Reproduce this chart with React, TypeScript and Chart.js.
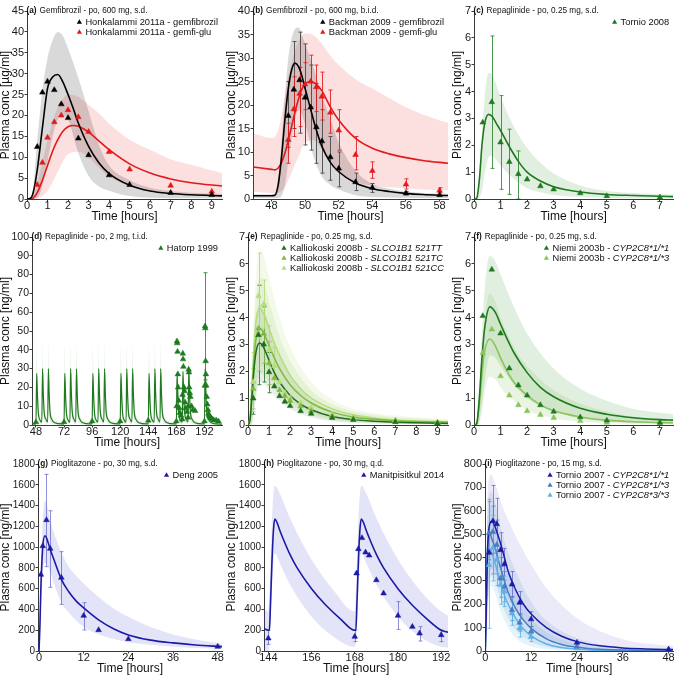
import React, { useEffect, useRef } from 'react';
import { Chart, registerables } from 'chart.js';

Chart.register(...registerables);

const FAM = "'Liberation Sans', Arial, Helvetica, sans-serif";
Chart.defaults.font.family = FAM;

// ---------------- (a) Gemfibrozil s.d. ----------------
const A_T_OBS = [0.5, 0.75, 1, 1.33, 1.67, 2, 2.5, 3, 4, 5, 7, 9];
const A_GEM_OBS = [12.5, 25.5, 28.1, 26.1, 22.7, 19.4, 14.5, 10.5, 5.7, 3.4, 1.5, 1.0];
const A_GLU_OBS = [3.4, 8.7, 14.7, 18.4, 20.0, 21.3, 19.6, 16.1, 11.3, 7.1, 3.2, 1.8];
const A_T_SIM = [0, 0.15, 0.3, 0.5, 0.75, 1, 1.25, 1.5, 1.75, 2, 2.25, 2.5, 3, 3.5, 4, 5, 6, 7, 8, 9.5];
const A_GEM_SIM = [0, 0.1, 1.5, 7, 17, 26.5, 29.2, 29.8, 28, 25, 21.7, 18.2, 12.6, 8.7, 6.1, 3.3, 1.9, 1.3, 1.0, 0.75];
const A_GLU_SIM = [0, 0, 0.2, 1.5, 4.5, 8, 11.5, 14.2, 16.2, 17.3, 17.6, 17.4, 16.0, 13.9, 11.8, 8.4, 6.2, 4.8, 3.9, 3.1];
const A_T_BAND = [0, 0.25, 0.5, 0.75, 1, 1.25, 1.5, 1.75, 2, 2.5, 3, 3.5, 4, 5, 6, 7, 8, 9.5];
const A_GEM_HI = [0, 1, 14, 26, 33.7, 38, 40, 39, 36, 29, 21, 13, 8, 4.5, 2.7, 1.9, 1.5, 1.2];
const A_GEM_LO = [0, 0, 0.3, 3, 9, 15, 19, 20, 19, 11, 5.5, 3, 2, 0.7, 0.3, 0.2, 0.15, 0.1];
const A_GLU_HI = [0, 0.5, 3.5, 9, 14, 18.5, 22, 24, 25, 24.5, 22.5, 20.5, 18, 14.2, 11.8, 9.5, 8.2, 6.2];
const A_GLU_LO = [0, 0, 0.1, 0.7, 2, 4, 6.5, 9, 10.8, 11.3, 10, 7.5, 5.3, 3.3, 2.2, 1.5, 1.1, 0.7];

// ---------------- (b) Gemfibrozil b.i.d. ----------------
const B_T_OBS = [49, 49.33, 49.67, 50, 50.33, 50.67, 51, 51.5, 52, 53, 54, 56, 58];
const B_GEM_OBS = [17.7, 23.3, 25.3, 21.6, 19.5, 15.3, 12.3, 8.9, 6.5, 3.6, 2.4, 1.2, 0.85];
const B_GLU_OBS = [12.6, 19.1, 22.4, 24.4, 25.0, 23.8, 21.8, 18.4, 14.6, 9.4, 6.0, 3.1, 1.8];
const B_GEM_ERR_T = [49, 49.33, 49.67, 50, 50.33, 50.67, 51, 51.5, 52, 53, 54, 56];
const B_GEM_ERR_LO = [11, 15, 14, 11.5, 10.4, 7.6, 5.5, 4, 2.6, 1.8, 1.4, 0.9];
const B_GEM_ERR_HI = [25, 33.5, 35.5, 33, 28.5, 24.6, 19, 13.3, 10, 5.5, 3.3, 1.6];
const B_GLU_ERR_T = [49, 49.33, 49.67, 50, 50.33, 50.67, 51, 51.5, 52, 53, 54, 56, 58];
const B_GLU_ERR_LO = [7.6, 13.3, 15.4, 19, 19.6, 18.6, 16.8, 14, 10.4, 6.2, 4.4, 2.1, 1.3];
const B_GLU_ERR_HI = [16.1, 26, 28, 29, 30.6, 28.5, 27, 23.2, 19, 13.3, 7.9, 4.3, 2.4];
const B_T_SIM = [46.9, 48, 48.2, 48.4, 48.6, 48.8, 49, 49.2, 49.4, 49.6, 49.8, 50, 50.3, 50.6, 51, 51.5, 52, 53, 54, 55, 56, 57, 58.5];
const B_GEM_SIM = [0.7, 0.7, 0.8, 3, 9, 17, 23.5, 27.5, 28.9, 28.2, 26.3, 23.5, 19.5, 15.5, 11.2, 7.8, 5.8, 3.4, 2.2, 1.6, 1.2, 0.95, 0.75];
const B_GLU_SIM = [6.8, 6.3, 6.2, 6.6, 7.8, 9.8, 12.5, 15.5, 18.5, 21.2, 23.3, 24.5, 25.0, 24.6, 23.0, 19.6, 16.8, 12.9, 10.8, 9.6, 8.8, 8.2, 7.6];
const B_T_BAND = [46.9, 48, 48.2, 48.5, 48.8, 49, 49.3, 49.6, 50, 50.5, 51, 51.5, 52, 53, 54, 55, 56, 57, 58.5];
const B_GEM_HI = [1.0, 1.0, 1.2, 8, 22, 30, 35.5, 36.5, 33, 28, 22, 17, 12, 6, 3.2, 2.2, 1.6, 1.3, 1.1];
const B_GEM_LO = [0.2, 0.2, 0.2, 0.3, 3, 8, 15, 19, 16, 9, 4.8, 3, 2, 0.8, 0.4, 0.3, 0.25, 0.2, 0.2];
const B_GLU_HI = [14, 13, 13.2, 16, 22, 26, 30.5, 33.5, 35.2, 34.8, 33, 30.5, 28.5, 25.5, 23.5, 21.5, 19.5, 18, 16.2];
const B_GLU_LO = [1.6, 1.3, 1.3, 1.5, 2.5, 4, 6.5, 9, 12, 12.5, 10.5, 8, 6, 3.7, 2.8, 2.5, 2.3, 2.0, 1.8];

// ---------------- (c) Repaglinide Tornio 2008 ----------------
const C_T_OBS = [0.33, 0.67, 1, 1.33, 1.67, 2, 2.5, 3, 4, 5, 7];
const C_OBS = [2.85, 3.61, 2.11, 1.38, 0.93, 0.73, 0.48, 0.36, 0.22, 0.11, 0.06];
const C_ERR_T = [0.67, 1, 1.33, 1.67];
const C_ERR_LO = [1.14, 0.36, 0.17, 0];
const C_ERR_HI = [6.07, 3.85, 2.6, 1.79];
const C_T_SIM = [0, 0.1, 0.2, 0.3, 0.4, 0.55, 0.7, 0.85, 1, 1.33, 1.67, 2, 2.5, 3, 4, 5, 6, 7, 7.5];
const C_SIM = [0, 0.03, 0.7, 2.0, 2.8, 3.15, 3.05, 2.8, 2.55, 1.95, 1.4, 1.0, 0.67, 0.46, 0.26, 0.17, 0.13, 0.1, 0.09];
const C_T_BAND = [0, 0.15, 0.3, 0.45, 0.6, 0.75, 1, 1.5, 2, 2.5, 3, 4, 5, 6, 7.5];
const C_HI = [0, 0.3, 2.5, 4.3, 4.7, 4.5, 3.8, 2.7, 1.9, 1.35, 0.95, 0.5, 0.3, 0.22, 0.17];
const C_LO = [0, 0, 0.3, 1.2, 1.6, 1.55, 1.25, 0.75, 0.4, 0.25, 0.15, 0.07, 0.04, 0.03, 0.02];

// ---------------- (d) Repaglinide t.i.d. ----------------
const D_T_OBS = [48, 72, 96, 120, 144,
  168, 168.25, 168.5, 168.75, 169, 169.25, 169.5, 170, 170.5, 171, 172,
  173, 173.25, 173.5, 173.75, 174, 174.5, 175, 175.5, 176, 177,
  178, 178.25, 178.5, 178.75, 179, 179.5, 180, 181, 182, 184,
  192, 192.25, 192.5, 192.75, 193, 193.25, 193.5, 194, 194.5, 195, 195.5, 196, 197, 198, 199, 200, 202, 204];
const D_OBS = [1.5, 1.6, 2.0, 2.0, 2.4,
  2, 10, 44.5, 43.5, 39, 27, 20, 13, 9, 6.5, 5,
  3, 16, 38, 35, 31, 20, 18, 12, 9, 7,
  4, 10, 29.5, 28, 20, 17, 15, 10, 8, 7.5,
  2, 21, 52.5, 51.5, 34, 27, 21, 15, 11, 8, 6, 5, 4, 3.5, 3, 2.5, 2.5, 2];
const D_ERR_T = [192.5];
const D_ERR_LO = [24];
const D_ERR_HI = [81];
const D_T_SIM = [44.6,
  48, 48.6, 49.2, 50, 51.5, 53, 53.6, 54.2, 55, 56.5, 58, 58.6, 59.2, 60, 61.5, 64, 70,
  72, 72.6, 73.2, 74, 75.5, 77, 77.6, 78.2, 79, 80.5, 82, 82.6, 83.2, 84, 85.5, 88, 94,
  96, 96.6, 97.2, 98, 99.5, 101, 101.6, 102.2, 103, 104.5, 106, 106.6, 107.2, 108, 109.5, 112, 118,
  120, 120.6, 121.2, 122, 123.5, 125, 125.6, 126.2, 127, 128.5, 130, 130.6, 131.2, 132, 133.5, 136, 142,
  144, 144.6, 145.2, 146, 147.5, 149, 149.6, 150.2, 151, 152.5, 154, 154.6, 155.2, 156, 157.5, 160, 166,
  168, 168.6, 169.2, 170, 171.5, 173, 173.6, 174.2, 175, 176.5, 178, 178.6, 179.2, 180, 181.5, 184, 190,
  192, 192.6, 193.2, 194, 195.5, 198, 202, 207];
const D_SIM = [0.6,
  0.6, 27.5, 17, 6.5, 2.5, 1.5, 30, 18, 7, 3, 1.6, 30, 18, 7, 3, 1.2, 0.6,
  0.6, 27.5, 17, 6.5, 2.5, 1.5, 30, 18, 7, 3, 1.6, 30, 18, 7, 3, 1.2, 0.6,
  0.6, 27.5, 17, 6.5, 2.5, 1.5, 30, 18, 7, 3, 1.6, 30, 18, 7, 3, 1.2, 0.6,
  0.6, 27.5, 17, 6.5, 2.5, 1.5, 30, 18, 7, 3, 1.6, 30, 18, 7, 3, 1.2, 0.6,
  0.6, 27.5, 17, 6.5, 2.5, 1.5, 30, 18, 7, 3, 1.6, 30, 18, 7, 3, 1.2, 0.6,
  0.6, 27.5, 17, 6.5, 2.5, 1.5, 28.5, 17, 7, 3, 1.6, 30, 18, 7, 3, 1.2, 0.6,
  0.6, 30, 18, 7, 3, 1.2, 0.6, 0.5];
const D_HI = [1.5,
  1.5, 42, 27, 11, 4.5, 3, 43, 28, 12, 5, 3, 43, 28, 12, 5, 2.5, 1.5,
  1.5, 42, 27, 11, 4.5, 3, 43, 28, 12, 5, 3, 43, 28, 12, 5, 2.5, 1.5,
  1.5, 42, 27, 11, 4.5, 3, 43, 28, 12, 5, 3, 43, 28, 12, 5, 2.5, 1.5,
  1.5, 42, 27, 11, 4.5, 3, 43, 28, 12, 5, 3, 43, 28, 12, 5, 2.5, 1.5,
  1.5, 42, 27, 11, 4.5, 3, 43, 28, 12, 5, 3, 43, 28, 12, 5, 2.5, 1.5,
  1.5, 42, 27, 11, 4.5, 3, 43, 28, 12, 5, 3, 43, 28, 12, 5, 2.5, 1.5,
  1.5, 43, 28, 12, 5, 2.5, 1.5, 1.2];
const D_LO = [0.1,
  0.1, 13, 7, 2.2, 0.7, 0.4, 14, 7.5, 2.5, 0.8, 0.4, 14, 7.5, 2.5, 0.8, 0.3, 0.1,
  0.1, 13, 7, 2.2, 0.7, 0.4, 14, 7.5, 2.5, 0.8, 0.4, 14, 7.5, 2.5, 0.8, 0.3, 0.1,
  0.1, 13, 7, 2.2, 0.7, 0.4, 14, 7.5, 2.5, 0.8, 0.4, 14, 7.5, 2.5, 0.8, 0.3, 0.1,
  0.1, 13, 7, 2.2, 0.7, 0.4, 14, 7.5, 2.5, 0.8, 0.4, 14, 7.5, 2.5, 0.8, 0.3, 0.1,
  0.1, 13, 7, 2.2, 0.7, 0.4, 14, 7.5, 2.5, 0.8, 0.4, 14, 7.5, 2.5, 0.8, 0.3, 0.1,
  0.1, 13, 7, 2.2, 0.7, 0.4, 14, 7.5, 2.5, 0.8, 0.4, 14, 7.5, 2.5, 0.8, 0.3, 0.1,
  0.1, 14, 7.5, 2.5, 0.8, 0.3, 0.1, 0.1];

// ---------------- (e) Repaglinide SLCO1B1 ----------------
const E_T_OBS = [0.25, 0.5, 0.75, 1, 1.25, 1.5, 1.75, 2, 2.5, 3, 4, 5, 7, 9];
const E_TT_OBS = [0.99, 3.35, 3.0, 1.97, 1.44, 1.08, 0.87, 0.71, 0.52, 0.42, 0.27, 0.19, 0.11, 0.06];
const E_TC_OBS = [1.35, 3.6, 3.4, 2.3, 1.75, 1.3, 1.08, 0.9, 0.7, 0.52, 0.33, 0.24, 0.15, 0.09];
const E_CC_OBS = [1.6, 4.8, 4.5, 2.8, 2.2, 1.6, 1.2, 1.0, 0.83, 0.65, 0.4, 0.27, 0.17, 0.09];
const E_TT_ERR_T = [0.25, 0.5, 0.75, 1];
const E_TT_ERR_LO = [0.4, 1.5, 1.6, 1.2];
const E_TT_ERR_HI = [1.6, 5.2, 4.4, 2.7];
const E_TC_ERR_T = [0.25, 0.5, 0.75, 1];
const E_TC_ERR_LO = [0.6, 2.0, 2.3, 1.5];
const E_TC_ERR_HI = [2.1, 5.2, 4.5, 3.1];
const E_CC_ERR_T = [0.25, 0.5, 0.75, 1, 1.25];
const E_CC_ERR_LO = [0.5, 3.2, 3.6, 1.9, 1.5];
const E_CC_ERR_HI = [2.7, 6.4, 5.4, 3.7, 2.9];
const E_T_SIM = [0, 0.1, 0.2, 0.3, 0.4, 0.55, 0.7, 0.85, 1, 1.25, 1.5, 2, 2.5, 3, 4, 5, 6, 7, 8, 9.5];
const E_TT_SIM = [0, 0.2, 1.2, 2.2, 2.8, 3.05, 2.95, 2.7, 2.4, 1.95, 1.6, 1.1, 0.78, 0.57, 0.32, 0.2, 0.14, 0.1, 0.08, 0.06];
const E_TC_SIM = [0, 0.25, 1.4, 2.6, 3.3, 3.6, 3.5, 3.25, 2.95, 2.5, 2.1, 1.5, 1.1, 0.82, 0.48, 0.3, 0.21, 0.16, 0.13, 0.1];
const E_CC_SIM = [0, 0.3, 1.7, 3.1, 4.0, 4.35, 4.2, 3.95, 3.6, 3.05, 2.6, 1.85, 1.35, 1.0, 0.6, 0.38, 0.26, 0.19, 0.15, 0.12];
const E_T_BAND = [0, 0.15, 0.3, 0.45, 0.6, 0.8, 1, 1.5, 2, 3, 4, 5, 7, 9.5];
const E_TT_HI = [0, 0.8, 3.2, 4.3, 4.5, 4.2, 3.7, 2.6, 1.85, 0.95, 0.55, 0.35, 0.2, 0.12];
const E_TT_LO = [0, 0, 0.6, 1.3, 1.6, 1.5, 1.3, 0.9, 0.6, 0.28, 0.14, 0.08, 0.04, 0.02];
const E_TC_HI = [0, 1.0, 3.8, 5.2, 5.5, 5.2, 4.6, 3.3, 2.4, 1.3, 0.78, 0.5, 0.3, 0.18];
const E_TC_LO = [0, 0, 0.7, 1.6, 1.9, 1.8, 1.6, 1.1, 0.75, 0.36, 0.18, 0.1, 0.05, 0.03];
const E_CC_HI = [0, 1.2, 4.5, 6.2, 6.5, 6.2, 5.5, 4.0, 2.9, 1.6, 0.95, 0.6, 0.35, 0.22];
const E_CC_LO = [0, 0, 0.8, 1.9, 2.2, 2.1, 1.9, 1.3, 0.9, 0.45, 0.22, 0.13, 0.07, 0.04];

// ---------------- (f) Repaglinide CYP2C8 ----------------
const F_T_OBS = [0.33, 0.67, 1, 1.33, 1.67, 2, 2.5, 3, 4, 5, 7];
const F_11_OBS = [4.06, 5.79, 3.41, 2.11, 1.48, 1.10, 0.74, 0.50, 0.29, 0.17, 0.09];
const F_13_OBS = [2.69, 3.56, 1.82, 1.10, 0.74, 0.52, 0.38, 0.27, 0.15, 0.09, 0.04];
const F_T_SIM = [0, 0.1, 0.2, 0.3, 0.4, 0.6, 0.8, 1, 1.25, 1.5, 2, 2.5, 3, 4, 5, 6, 7, 7.5];
const F_11_SIM = [0, 0.05, 1.0, 2.5, 3.6, 4.4, 4.2, 3.75, 3.2, 2.7, 1.95, 1.4, 1.05, 0.62, 0.4, 0.27, 0.2, 0.18];
const F_13_SIM = [0, 0.04, 0.75, 1.9, 2.75, 3.2, 2.95, 2.5, 2.0, 1.6, 1.1, 0.75, 0.53, 0.3, 0.18, 0.12, 0.09, 0.08];
const F_T_BAND = [0, 0.15, 0.3, 0.45, 0.6, 0.8, 1, 1.5, 2, 3, 4, 5, 6, 7.5];
const F_11_HI = [0, 0.5, 3.5, 5.6, 6.3, 6.1, 5.6, 4.4, 3.4, 2.1, 1.35, 0.9, 0.6, 0.4];
const F_11_LO = [0, 0, 0.8, 2.0, 2.6, 2.5, 2.2, 1.5, 1.0, 0.5, 0.25, 0.13, 0.08, 0.05];
const F_13_HI = [0, 0.4, 2.7, 4.3, 4.9, 4.6, 4.0, 2.9, 2.2, 1.3, 0.8, 0.5, 0.32, 0.2];
const F_13_LO = [0, 0, 0.5, 1.5, 1.8, 1.7, 1.4, 0.9, 0.55, 0.25, 0.12, 0.07, 0.04, 0.02];

// ---------------- (g) Pioglitazone s.d. ----------------
const G_T_OBS = [0.5, 1, 2, 3, 6, 12, 16, 24, 48];
const G_OBS = [735, 1010, 1261, 985, 706, 340, 202, 115, 42];
const G_ERR_T = [2, 3, 6, 12];
const G_ERR_LO = [812, 613, 449, 202];
const G_ERR_HI = [1700, 1350, 956, 465];
const G_T_SIM = [0, 0.25, 0.5, 1, 1.6, 2, 3, 4, 6, 8, 10, 12, 16, 20, 24, 30, 36, 42, 49.15];
const G_SIM = [0, 250, 600, 1000, 1110, 1090, 980, 880, 690, 570, 480, 415, 300, 215, 155, 105, 78, 58, 42];
const G_T_BAND = [0, 0.5, 1, 1.6, 2, 3, 4, 6, 8, 12, 16, 20, 24, 30, 36, 42, 49.15];
const G_HI = [0, 800, 1250, 1450, 1420, 1260, 1140, 950, 810, 650, 520, 410, 330, 230, 160, 110, 70];
const G_LO = [0, 350, 750, 850, 840, 760, 650, 470, 370, 230, 160, 115, 85, 60, 42, 30, 20];

// ---------------- (h) Pioglitazone q.d. ----------------
const H_T_OBS = [144, 168, 168.5, 169, 170, 171, 172, 174, 176, 180, 184, 186, 192];
const H_OBS = [122, 138, 748, 982, 1088, 950, 920, 683, 555, 340, 234, 170, 154];
const H_ERR_T = [144, 168, 180, 186, 192];
const H_ERR_LO = [64, 90, 208, 96, 90];
const H_ERR_HI = [202, 202, 475, 234, 202];
const H_T_SIM = [142.8, 144, 144.3, 144.6, 145, 145.4, 145.8, 146.5, 147, 148, 150, 152, 156, 160, 164, 168, 168.3, 168.6, 169, 169.4, 169.8, 170.5, 171, 172, 174, 176, 180, 184, 188, 192, 193.95];
const H_SIM = [215, 200, 200, 450, 850, 1150, 1270, 1230, 1180, 1090, 930, 800, 600, 440, 310, 200, 200, 450, 850, 1150, 1270, 1230, 1180, 1090, 930, 800, 600, 440, 310, 200, 180];
const H_T_BAND = [142.8, 144, 144.5, 145, 145.8, 147, 150, 156, 162, 168, 168.5, 169, 169.8, 171, 174, 180, 186, 192, 193.95];
const H_HI = [410, 380, 700, 1250, 1590, 1530, 1280, 880, 590, 380, 700, 1250, 1590, 1530, 1280, 880, 590, 380, 340];
const H_LO = [0, 0, 200, 600, 940, 860, 640, 330, 140, 40, 150, 600, 940, 860, 640, 330, 140, 40, 30];

// ---------------- (i) Pioglitazone CYP2C8 ----------------
const I_T_OBS = [1, 2, 3, 4, 5, 7, 9, 12, 24, 48];
const I_11_OBS = [421, 556, 543, 432, 372, 285, 207, 136, 36, 7];
const I_13_OBS = [504, 510, 454, 311, 275, 175, 121, 83, 19, 4];
const I_33_OBS = [368, 440, 390, 283, 254, 161, 97, 61, 11, 3];
const I_11_ERR_T = [2, 3, 4, 5, 7, 9, 12];
const I_11_ERR_LO = [418, 432, 361, 304, 233, 154, 104];
const I_11_ERR_HI = [708, 653, 506, 439, 340, 254, 168];
const I_13_ERR_T = [1, 2, 3, 4, 5, 7, 9, 12];
const I_13_ERR_LO = [390, 330, 330, 230, 210, 130, 85, 60];
const I_13_ERR_HI = [639, 620, 560, 400, 340, 230, 160, 105];
const I_33_ERR_T = [1, 2, 3, 4, 5, 7, 9, 12];
const I_33_ERR_LO = [97, 300, 280, 200, 190, 110, 60, 40];
const I_33_ERR_HI = [649, 580, 500, 370, 320, 210, 135, 85];
const I_T_SIM = [0, 0.25, 0.5, 0.8, 1.2, 1.7, 2.5, 3, 4, 5, 6, 8, 10, 12, 16, 20, 24, 30, 36, 42, 49.2];
const I_11_SIM = [0, 180, 380, 500, 545, 555, 535, 510, 460, 400, 340, 260, 200, 158, 100, 63, 40, 22, 13, 9, 6];
const I_13_SIM = [0, 200, 400, 490, 500, 480, 445, 415, 355, 300, 250, 180, 132, 97, 52, 28, 16, 7, 4, 2.5, 1.5];
const I_33_SIM = [0, 180, 360, 430, 440, 420, 380, 350, 290, 240, 200, 138, 94, 65, 30, 15, 8, 3, 1.5, 1, 0.5];
const I_T_BAND = [0, 0.5, 1, 1.5, 2.5, 4, 6, 8, 12, 16, 24, 36, 49.2];
const I_11_HI = [0, 600, 740, 755, 720, 640, 560, 490, 370, 270, 140, 50, 20];
const I_11_LO = [0, 150, 300, 350, 340, 290, 220, 170, 95, 55, 18, 4, 1];
const I_13_HI = [0, 550, 670, 680, 640, 530, 420, 340, 210, 130, 55, 14, 4];
const I_13_LO = [0, 150, 290, 320, 300, 220, 140, 90, 40, 18, 4, 0.5, 0];
const I_33_HI = [0, 500, 610, 620, 570, 440, 330, 250, 140, 80, 30, 6, 2];
const I_33_LO = [0, 130, 250, 280, 250, 170, 100, 55, 20, 7, 1.5, 0, 0];

// ---------------- tick labels ----------------
const A_X_TICKS = [0, 1, 2, 3, 4, 5, 6, 7, 8, 9];
const A_Y_TICKS = [0, 5, 10, 15, 20, 25, 30, 35, 40, 45];
const B_X_TICKS = [48, 50, 52, 54, 56, 58];
const B_Y_TICKS = [0, 5, 10, 15, 20, 25, 30, 35, 40];
const C_X_TICKS = [0, 1, 2, 3, 4, 5, 6, 7];
const SEVEN_Y_TICKS = [0, 1, 2, 3, 4, 5, 6, 7];
const D_X_TICKS = [48, 72, 96, 120, 144, 168, 192];
const D_Y_TICKS = [0, 10, 20, 30, 40, 50, 60, 70, 80, 90, 100];
const E_X_TICKS = [0, 1, 2, 3, 4, 5, 6, 7, 8, 9];
const G_X_TICKS = [0, 12, 24, 36, 48];
const H_X_TICKS = [144, 156, 168, 180, 192];
const PIO_Y_TICKS = [0, 200, 400, 600, 800, 1000, 1200, 1400, 1600, 1800];
const I_Y_TICKS = [0, 100, 200, 300, 400, 500, 600, 700, 800];

// ---------------- colours ----------------
const BLACK = '#000000', BLACK_BAND = 'rgba(0,0,0,0.15)', BLACK_ERR = '#555555';
const RED = '#e3191c', RED_BAND = 'rgba(236,40,40,0.15)', RED_ERR = 'rgba(227,25,28,0.85)';
const GREEN = '#1f7a1f', GREEN_BAND = 'rgba(40,140,40,0.14)', GREEN_ERR = 'rgba(31,122,31,0.8)';
const LGREEN = '#8cc35c', LGREEN_BAND = 'rgba(140,195,92,0.18)';
const E_TT = '#1f6e1f', E_TC = '#80ba3e', E_CC = '#b4de7a';
const BLUE = '#1b1ba6', BLUE_BAND = 'rgba(45,45,200,0.13)', BLUE_ERR = 'rgba(70,70,190,0.6)';
const MBLUE = '#4a7cc0', LBLUE = '#5db3e6';

type Part = { text: string; italic?: boolean };
type Series = {
  label: Part[]; color: string; band: string; errColor: string;
  obsT: number[]; obs: number[];
  errT?: number[]; errLo?: number[]; errHi?: number[];
  simT: number[]; sim: number[];
  bandT: number[]; hi: number[]; lo: number[];
};
type Panel = {
  key: string; x0: number; y0: number; w: number; h: number;
  leftW: number; R: number; T: number; bottomH: number;
  tag: string; title: string;
  xMin: number; xMax: number; xTicks: number[];
  yMax: number; yTicks: number[]; yTitle: string; yTickSize: number;
  lineW: number; series: Series[];
};

const NG = 'Plasma conc [ng/ml]';
const UG = 'Plasma conc [µg/ml]';

const PANELS: Panel[] = [
  {
    key: 'a', x0: 0, y0: 0, w: 226, h: 226, leftW: 27, R: 4, T: 11, bottomH: 27,
    tag: '(a)', title: 'Gemfibrozil - po, 600 mg, s.d.',
    xMin: 0, xMax: 9.5, xTicks: A_X_TICKS, yMax: 45, yTicks: A_Y_TICKS, yTitle: UG, yTickSize: 11, lineW: 1.6,
    series: [
      { label: [{ text: 'Honkalammi 2011a - gemfibrozil' }], color: BLACK, band: BLACK_BAND, errColor: BLACK_ERR,
        obsT: A_T_OBS, obs: A_GEM_OBS, simT: A_T_SIM, sim: A_GEM_SIM, bandT: A_T_BAND, hi: A_GEM_HI, lo: A_GEM_LO },
      { label: [{ text: 'Honkalammi 2011a - gemfi-glu' }], color: RED, band: RED_BAND, errColor: RED_ERR,
        obsT: A_T_OBS, obs: A_GLU_OBS, simT: A_T_SIM, sim: A_GLU_SIM, bandT: A_T_BAND, hi: A_GLU_HI, lo: A_GLU_LO },
    ],
  },
  {
    key: 'b', x0: 226, y0: 0, w: 226, h: 226, leftW: 27, R: 4, T: 11, bottomH: 27,
    tag: '(b)', title: 'Gemfibrozil - po, 600 mg, b.i.d.',
    xMin: 46.9, xMax: 58.5, xTicks: B_X_TICKS, yMax: 40, yTicks: B_Y_TICKS, yTitle: UG, yTickSize: 11, lineW: 1.6,
    series: [
      { label: [{ text: 'Backman 2009 - gemfibrozil' }], color: BLACK, band: BLACK_BAND, errColor: BLACK_ERR,
        obsT: B_T_OBS, obs: B_GEM_OBS, errT: B_GEM_ERR_T, errLo: B_GEM_ERR_LO, errHi: B_GEM_ERR_HI,
        simT: B_T_SIM, sim: B_GEM_SIM, bandT: B_T_BAND, hi: B_GEM_HI, lo: B_GEM_LO },
      { label: [{ text: 'Backman 2009 - gemfi-glu' }], color: RED, band: RED_BAND, errColor: RED_ERR,
        obsT: B_T_OBS, obs: B_GLU_OBS, errT: B_GLU_ERR_T, errLo: B_GLU_ERR_LO, errHi: B_GLU_ERR_HI,
        simT: B_T_SIM, sim: B_GLU_SIM, bandT: B_T_BAND, hi: B_GLU_HI, lo: B_GLU_LO },
    ],
  },
  {
    key: 'c', x0: 452, y0: 0, w: 225, h: 226, leftW: 22, R: 2, T: 11, bottomH: 27,
    tag: '(c)', title: 'Repaglinide - po, 0.25 mg, s.d.',
    xMin: 0, xMax: 7.5, xTicks: C_X_TICKS, yMax: 7, yTicks: SEVEN_Y_TICKS, yTitle: NG, yTickSize: 11, lineW: 1.6,
    series: [
      { label: [{ text: 'Tornio 2008' }], color: GREEN, band: GREEN_BAND, errColor: GREEN_ERR,
        obsT: C_T_OBS, obs: C_OBS, errT: C_ERR_T, errLo: C_ERR_LO, errHi: C_ERR_HI,
        simT: C_T_SIM, sim: C_SIM, bandT: C_T_BAND, hi: C_HI, lo: C_LO },
    ],
  },
  {
    key: 'd', x0: 0, y0: 226, w: 226, h: 224, leftW: 32, R: 4, T: 11, bottomH: 25,
    tag: '(d)', title: 'Repaglinide - po, 2 mg, t.i.d.',
    xMin: 44.6, xMax: 207, xTicks: D_X_TICKS, yMax: 100, yTicks: D_Y_TICKS, yTitle: NG, yTickSize: 10.5, lineW: 1.2,
    series: [
      { label: [{ text: 'Hatorp 1999' }], color: GREEN, band: 'rgba(40,140,40,0.12)', errColor: GREEN_ERR,
        obsT: D_T_OBS, obs: D_OBS, errT: D_ERR_T, errLo: D_ERR_LO, errHi: D_ERR_HI,
        simT: D_T_SIM, sim: D_SIM, bandT: D_T_SIM, hi: D_HI, lo: D_LO },
    ],
  },
  {
    key: 'e', x0: 226, y0: 226, w: 226, h: 224, leftW: 22, R: 4, T: 11, bottomH: 25,
    tag: '(e)', title: 'Repaglinide - po, 0.25 mg, s.d.',
    xMin: 0, xMax: 9.5, xTicks: E_X_TICKS, yMax: 7, yTicks: SEVEN_Y_TICKS, yTitle: NG, yTickSize: 11, lineW: 1.5,
    series: [
      { label: [{ text: 'Kalliokoski 2008b - ' }, { text: 'SLCO1B1 521TT', italic: true }], color: E_TT, band: 'rgba(31,110,31,0.1)', errColor: 'rgba(31,110,31,0.8)',
        obsT: E_T_OBS, obs: E_TT_OBS, errT: E_TT_ERR_T, errLo: E_TT_ERR_LO, errHi: E_TT_ERR_HI,
        simT: E_T_SIM, sim: E_TT_SIM, bandT: E_T_BAND, hi: E_TT_HI, lo: E_TT_LO },
      { label: [{ text: 'Kalliokoski 2008b - ' }, { text: 'SLCO1B1 521TC', italic: true }], color: E_TC, band: 'rgba(128,186,62,0.12)', errColor: 'rgba(128,186,62,0.85)',
        obsT: E_T_OBS, obs: E_TC_OBS, errT: E_TC_ERR_T, errLo: E_TC_ERR_LO, errHi: E_TC_ERR_HI,
        simT: E_T_SIM, sim: E_TC_SIM, bandT: E_T_BAND, hi: E_TC_HI, lo: E_TC_LO },
      { label: [{ text: 'Kalliokoski 2008b - ' }, { text: 'SLCO1B1 521CC', italic: true }], color: E_CC, band: 'rgba(180,222,122,0.16)', errColor: 'rgba(180,222,122,0.9)',
        obsT: E_T_OBS, obs: E_CC_OBS, errT: E_CC_ERR_T, errLo: E_CC_ERR_LO, errHi: E_CC_ERR_HI,
        simT: E_T_SIM, sim: E_CC_SIM, bandT: E_T_BAND, hi: E_CC_HI, lo: E_CC_LO },
    ],
  },
  {
    key: 'f', x0: 452, y0: 226, w: 225, h: 224, leftW: 22, R: 2, T: 11, bottomH: 25,
    tag: '(f)', title: 'Repaglinide - po, 0.25 mg, s.d.',
    xMin: 0, xMax: 7.5, xTicks: C_X_TICKS, yMax: 7, yTicks: SEVEN_Y_TICKS, yTitle: NG, yTickSize: 11, lineW: 1.6,
    series: [
      { label: [{ text: 'Niemi 2003b - ' }, { text: 'CYP2C8*1/*1', italic: true }], color: GREEN, band: GREEN_BAND, errColor: GREEN_ERR,
        obsT: F_T_OBS, obs: F_11_OBS, simT: F_T_SIM, sim: F_11_SIM, bandT: F_T_BAND, hi: F_11_HI, lo: F_11_LO },
      { label: [{ text: 'Niemi 2003b - ' }, { text: 'CYP2C8*1/*3', italic: true }], color: LGREEN, band: LGREEN_BAND, errColor: LGREEN,
        obsT: F_T_OBS, obs: F_13_OBS, simT: F_T_SIM, sim: F_13_SIM, bandT: F_T_BAND, hi: F_13_HI, lo: F_13_LO },
    ],
  },
  {
    key: 'g', x0: 0, y0: 450, w: 226, h: 226, leftW: 38, R: 4, T: 14, bottomH: 25,
    tag: '(g)', title: 'Pioglitazone - po, 30 mg, s.d.',
    xMin: -0.27, xMax: 49.15, xTicks: G_X_TICKS, yMax: 1800, yTicks: PIO_Y_TICKS, yTitle: NG, yTickSize: 10, lineW: 1.6,
    series: [
      { label: [{ text: 'Deng 2005' }], color: BLUE, band: BLUE_BAND, errColor: BLUE_ERR,
        obsT: G_T_OBS, obs: G_OBS, errT: G_ERR_T, errLo: G_ERR_LO, errHi: G_ERR_HI,
        simT: G_T_SIM, sim: G_SIM, bandT: G_T_BAND, hi: G_HI, lo: G_LO },
    ],
  },
  {
    key: 'h', x0: 226, y0: 450, w: 226, h: 226, leftW: 38, R: 3, T: 14, bottomH: 25,
    tag: '(h)', title: 'Pioglitazone - po, 30 mg, q.d.',
    xMin: 142.8, xMax: 193.95, xTicks: H_X_TICKS, yMax: 1800, yTicks: PIO_Y_TICKS, yTitle: NG, yTickSize: 10, lineW: 1.6,
    series: [
      { label: [{ text: 'Manitpisitkul 2014' }], color: BLUE, band: BLUE_BAND, errColor: BLUE_ERR,
        obsT: H_T_OBS, obs: H_OBS, errT: H_ERR_T, errLo: H_ERR_LO, errHi: H_ERR_HI,
        simT: H_T_SIM, sim: H_SIM, bandT: H_T_BAND, hi: H_HI, lo: H_LO },
    ],
  },
  {
    key: 'i', x0: 452, y0: 450, w: 225, h: 226, leftW: 33, R: 2, T: 14, bottomH: 25,
    tag: '(i)', title: 'Pioglitazone - po, 15 mg, s.d.',
    xMin: -0.08, xMax: 49.2, xTicks: G_X_TICKS, yMax: 800, yTicks: I_Y_TICKS, yTitle: NG, yTickSize: 11, lineW: 1.5,
    series: [
      { label: [{ text: 'Tornio 2007 - ' }, { text: 'CYP2C8*1/*1', italic: true }], color: BLUE, band: 'rgba(45,45,190,0.1)', errColor: BLUE_ERR,
        obsT: I_T_OBS, obs: I_11_OBS, errT: I_11_ERR_T, errLo: I_11_ERR_LO, errHi: I_11_ERR_HI,
        simT: I_T_SIM, sim: I_11_SIM, bandT: I_T_BAND, hi: I_11_HI, lo: I_11_LO },
      { label: [{ text: 'Tornio 2007 - ' }, { text: 'CYP2C8*1/*3', italic: true }], color: MBLUE, band: 'rgba(74,124,192,0.13)', errColor: 'rgba(74,124,192,0.7)',
        obsT: I_T_OBS, obs: I_13_OBS, errT: I_13_ERR_T, errLo: I_13_ERR_LO, errHi: I_13_ERR_HI,
        simT: I_T_SIM, sim: I_13_SIM, bandT: I_T_BAND, hi: I_13_HI, lo: I_13_LO },
      { label: [{ text: 'Tornio 2007 - ' }, { text: 'CYP2C8*3/*3', italic: true }], color: LBLUE, band: 'rgba(93,179,230,0.16)', errColor: 'rgba(93,179,230,0.8)',
        obsT: I_T_OBS, obs: I_33_OBS, errT: I_33_ERR_T, errLo: I_33_ERR_LO, errHi: I_33_ERR_HI,
        simT: I_T_SIM, sim: I_33_SIM, bandT: I_T_BAND, hi: I_33_HI, lo: I_33_LO },
    ],
  },
];

function zip(xs: number[], ys: number[]) {
  return xs.map((x, i) => ({ x, y: ys[i] }));
}

function triangle(ctx: CanvasRenderingContext2D, cx: number, cy: number, r: number) {
  ctx.beginPath();
  ctx.moveTo(cx, cy - r);
  ctx.lineTo(cx + r * 0.866, cy + r * 0.5);
  ctx.lineTo(cx - r * 0.866, cy + r * 0.5);
  ctx.closePath();
  ctx.fill();
}

function decorPlugin(p: Panel) {
  return {
    id: 'decor_' + p.key,
    beforeDatasetsDraw(chart: any) {
      const ctx: CanvasRenderingContext2D = chart.ctx;
      const xs = chart.scales.x, ys = chart.scales.y;
      const area = chart.chartArea;
      ctx.save();
      ctx.beginPath();
      ctx.rect(area.left, area.top - 1, area.right - area.left, area.bottom - area.top + 1);
      ctx.clip();
      ctx.lineWidth = 1;
      p.series.forEach((s) => {
        if (!s.errT) return;
        ctx.strokeStyle = s.errColor;
        s.errT.forEach((t, i) => {
          const x = Math.round(xs.getPixelForValue(t)) + 0.5;
          const y1 = ys.getPixelForValue(s.errLo![i]);
          const y2 = ys.getPixelForValue(s.errHi![i]);
          ctx.beginPath();
          ctx.moveTo(x, y1); ctx.lineTo(x, y2);
          ctx.moveTo(x - 2, y1); ctx.lineTo(x + 2, y1);
          ctx.moveTo(x - 2, y2); ctx.lineTo(x + 2, y2);
          ctx.stroke();
        });
      });
      ctx.restore();
    },
    afterDraw(chart: any) {
      const ctx: CanvasRenderingContext2D = chart.ctx;
      const area = chart.chartArea;
      // title
      ctx.save();
      ctx.fillStyle = '#111';
      ctx.textBaseline = 'alphabetic';
      ctx.textAlign = 'left';
      ctx.translate(area.left - 0.5, area.top + 1.5);
      ctx.scale(0.84, 1);
      ctx.font = `bold 9.8px ${FAM}`;
      ctx.fillText(p.tag, 0, 0);
      const tw = ctx.measureText(p.tag).width;
      ctx.font = `9.8px ${FAM}`;
      const sp = ctx.measureText(' ').width;
      ctx.fillText(p.title, tw + sp * 1.3, 0);
      ctx.restore();
      // legend
      ctx.save();
      ctx.textBaseline = 'middle';
      ctx.textAlign = 'left';
      const fontN = `9.3px ${FAM}`, fontI = `italic 9.3px ${FAM}`;
      const widths = p.series.map((s) => s.label.reduce((acc, part) => {
        ctx.font = part.italic ? fontI : fontN;
        return acc + ctx.measureText(part.text).width;
      }, 0));
      const maxW = Math.max(...widths);
      const tx = area.right - 4 - maxW;
      p.series.forEach((s, i) => {
        const y = area.top + 11 + i * 10;
        ctx.fillStyle = s.color;
        triangle(ctx, tx - 6, y + 0.3, 3);
        ctx.fillStyle = '#111';
        let x = tx;
        s.label.forEach((part) => {
          ctx.font = part.italic ? fontI : fontN;
          ctx.fillText(part.text, x, y);
          x += ctx.measureText(part.text).width;
        });
      });
      ctx.restore();
    },
  };
}

function buildConfig(p: Panel): any {
  const datasets: any[] = [];
  p.series.forEach((s) => datasets.push({
    data: zip(s.obsT, s.obs), showLine: false, pointStyle: 'triangle',
    pointRadius: 3.3, pointHoverRadius: 3.3, pointBackgroundColor: s.color,
    pointBorderColor: s.color, pointBorderWidth: 0.5, fill: false,
  }));
  p.series.forEach((s) => datasets.push({
    data: zip(s.simT, s.sim), borderColor: s.color, borderWidth: p.lineW,
    pointRadius: 0, pointHoverRadius: 0, cubicInterpolationMode: 'monotone', fill: false,
  }));
  p.series.forEach((s) => {
    datasets.push({
      data: zip(s.bandT, s.hi), borderWidth: 0, borderColor: 'rgba(0,0,0,0)',
      pointRadius: 0, pointHoverRadius: 0, cubicInterpolationMode: 'monotone',
      fill: '+1', backgroundColor: s.band,
    });
    datasets.push({
      data: zip(s.bandT, s.lo), borderWidth: 0, borderColor: 'rgba(0,0,0,0)',
      pointRadius: 0, pointHoverRadius: 0, cubicInterpolationMode: 'monotone', fill: false,
    });
  });

  const zeroPad = (s: any) => { s.paddingLeft = 0; s.paddingRight = 0; s.paddingTop = 0; s.paddingBottom = 0; };
  const axisColor = '#3a3a3a';

  return {
    type: 'line',
    data: { datasets },
    options: {
      animation: false,
      responsive: false,
      devicePixelRatio: 1,
      events: [],
      layout: { padding: { left: 0, top: p.T, right: p.R, bottom: 0 } },
      plugins: {
        legend: { display: false },
        tooltip: { enabled: false },
        title: { display: false },
        filler: { drawTime: 'beforeDatasetsDraw', propagate: false },
      },
      scales: {
        x: {
          type: 'linear', min: p.xMin, max: p.xMax,
          afterBuildTicks: (s: any) => { s.ticks = p.xTicks.map((v) => ({ value: v })); },
          afterFit: (s: any) => { s.height = p.bottomH; zeroPad(s); },
          grid: { display: true, drawOnChartArea: false, drawTicks: true, tickLength: 2.5, color: axisColor },
          border: { display: true, color: axisColor, width: 1 },
          ticks: { autoSkip: false, maxRotation: 0, padding: -1.5, color: '#1a1a1a', font: { size: 11, family: FAM, lineHeight: 1 }, callback: (v: any) => String(v) },
          title: { display: true, text: 'Time [hours]', color: '#111', font: { size: 12, family: FAM, lineHeight: 1 }, padding: { top: 0, bottom: p.bottomH - 23.5 } },
        },
        y: {
          type: 'linear', min: 0, max: p.yMax,
          afterBuildTicks: (s: any) => { s.ticks = p.yTicks.map((v) => ({ value: v })); },
          afterFit: (s: any) => { s.width = p.leftW; zeroPad(s); },
          grid: { display: true, drawOnChartArea: false, drawTicks: true, tickLength: 2.5, color: axisColor },
          border: { display: true, color: axisColor, width: 1 },
          ticks: { autoSkip: false, padding: 0.5, color: '#1a1a1a', font: { size: p.yTickSize, family: FAM }, callback: (v: any) => String(v) },
          title: { display: true, text: p.yTitle, color: '#111', font: { size: 12, family: FAM, lineHeight: 1 }, padding: { top: 0, bottom: 0 } },
        },
      },
    },
    plugins: [decorPlugin(p)],
  };
}

function PanelChart({ p }: { p: Panel }) {
  const ref = useRef<HTMLCanvasElement>(null);
  useEffect(() => {
    const chart = new Chart(ref.current as HTMLCanvasElement, buildConfig(p));
    return () => chart.destroy();
  }, [p]);
  return (
    <canvas
      ref={ref}
      width={p.w}
      height={p.h}
      style={{ position: 'absolute', left: p.x0, top: p.y0, width: p.w, height: p.h }}
    />
  );
}

export default function App() {
  return (
    <div style={{ position: 'absolute', left: 0, top: 0, width: 677, height: 676, background: '#ffffff' }}>
      {PANELS.map((p) => <PanelChart key={p.key} p={p} />)}
    </div>
  );
}
